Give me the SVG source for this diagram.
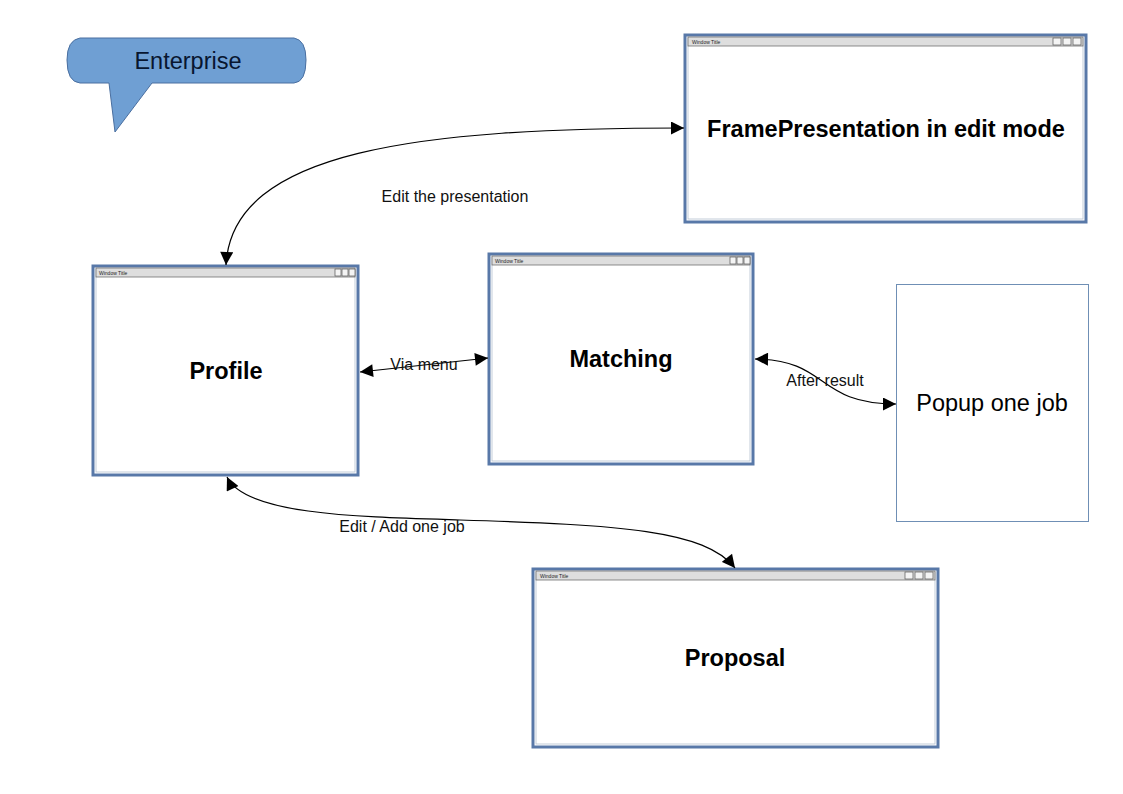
<svg xmlns="http://www.w3.org/2000/svg" width="1123" height="794" viewBox="0 0 1123 794">
<style>
.frame{fill:#ffffff;stroke:#5878a8;stroke-width:3}
.inner{fill:none;stroke:#b4c0d0;stroke-width:0.8}
.bar{fill:#dedede;stroke:#707070;stroke-width:0.8}
.btn{fill:#f4f4f4;stroke:#555;stroke-width:0.7}
.tt{font-family:"Liberation Sans",Arial,sans-serif;font-size:5px;fill:#222}
.big{font-family:"Liberation Sans",Arial,sans-serif;font-size:23.5px;font-weight:bold;fill:#000;text-anchor:middle}
.lbl{font-family:"Liberation Sans",Arial,sans-serif;font-size:16px;fill:#111;text-anchor:middle}
.conn{fill:none;stroke:#000;stroke-width:1.2}
</style>
<defs>
<marker id="ah" viewBox="0 0 10 10" refX="10" refY="5" markerWidth="15" markerHeight="13" markerUnits="userSpaceOnUse" orient="auto-start-reverse"><path d="M0,0 L10,5 L0,10 z" fill="#000"/></marker>
</defs>
<rect width="1123" height="794" fill="#ffffff"/>

<g id="enterprise">
<path d="M80,38 L294,38 Q306,40 306,60 Q306,82 294,83 L152,83 L115,132 L109,83 L80,83 Q67,82 67,60 Q67,40 80,38 Z" fill="#6f9fd3" stroke="#4a6fa0" stroke-width="1"/>
<text x="188" y="69" font-family="Liberation Sans,Arial,sans-serif" font-size="23.5" fill="#081630" text-anchor="middle">Enterprise</text>
</g>

<g id="framepresentation">
<rect class="frame" x="685" y="35" width="401" height="187"/>
<rect class="inner" x="688" y="38" width="395" height="181"/>
<rect class="bar" x="688" y="37" width="395" height="9"/>
<text class="tt" x="692" y="43.5">Window Title</text>
<rect class="btn" x="1053" y="38" width="8" height="7"/><rect class="btn" x="1063" y="38" width="8" height="7"/><rect class="btn" x="1073" y="38" width="8" height="7"/>
<text class="big" x="886" y="137">FramePresentation in edit mode</text>
</g>

<g id="profile">
<rect class="frame" x="93" y="266" width="265" height="209"/>
<rect class="inner" x="96" y="269" width="259" height="203"/>
<rect class="bar" x="96" y="268" width="259" height="9"/>
<text class="tt" x="99" y="274.5">Window Title</text>
<rect class="btn" x="335" y="269" width="6" height="7"/><rect class="btn" x="342" y="269" width="6" height="7"/><rect class="btn" x="349" y="269" width="6" height="7"/>
<text class="big" x="226" y="379">Profile</text>
</g>

<g id="matching">
<rect class="frame" x="489" y="254" width="264" height="210"/>
<rect class="inner" x="492" y="257" width="258" height="204"/>
<rect class="bar" x="492" y="256" width="258" height="9"/>
<text class="tt" x="495" y="262.5">Window Title</text>
<rect class="btn" x="730" y="257" width="6" height="7"/><rect class="btn" x="737" y="257" width="6" height="7"/><rect class="btn" x="744" y="257" width="6" height="7"/>
<text class="big" x="621" y="367">Matching</text>
</g>

<g id="popup">
<rect x="896.5" y="284.5" width="192" height="237" fill="#ffffff" stroke="#6f8fb5" stroke-width="1"/>
<text x="992" y="411" font-family="Liberation Sans,Arial,sans-serif" font-size="23.5" fill="#000" text-anchor="middle">Popup one job</text>
</g>

<g id="proposal">
<rect class="frame" x="533" y="569" width="405" height="178"/>
<rect class="inner" x="536" y="572" width="399" height="172"/>
<rect class="bar" x="536" y="571" width="399" height="9"/>
<text class="tt" x="540" y="577.5">Window Title</text>
<rect class="btn" x="905" y="572" width="8" height="7"/><rect class="btn" x="915" y="572" width="8" height="7"/><rect class="btn" x="925" y="572" width="8" height="7"/>
<text class="big" x="735" y="666">Proposal</text>
</g>

<g id="connectors">
<path class="conn" d="M226,265 C232,150 420,128 684,128" marker-start="url(#ah)" marker-end="url(#ah)"/>
<path class="conn" d="M360,372 L488,358" marker-start="url(#ah)" marker-end="url(#ah)"/>
<path class="conn" d="M755,359 C830,360 815,404 896,404" marker-start="url(#ah)" marker-end="url(#ah)"/>
<path class="conn" d="M227,477 C245,515 360,517 460,520 C620,525 705,530 735,568" marker-start="url(#ah)" marker-end="url(#ah)"/>
<text class="lbl" x="455" y="202">Edit the presentation</text>
<text class="lbl" x="424" y="370">Via menu</text>
<text class="lbl" x="825" y="386">After result</text>
<text class="lbl" x="402" y="532">Edit / Add one job</text>
</g>
</svg>
